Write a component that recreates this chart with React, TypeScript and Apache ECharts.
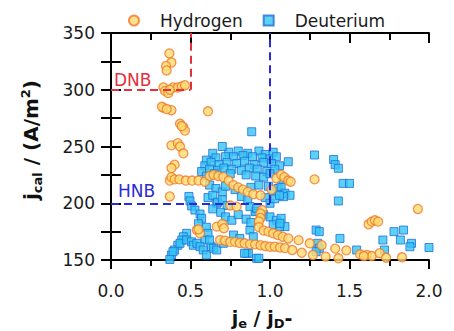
import React, { useEffect, useRef } from "react";
import * as echarts from "echarts";

const xTickValues = [0, 0.5, 1.0, 1.5, 2.0];
const yTickValues = [150, 200, 250, 300, 350];

const hydrogenPoints: [number, number][] = [
  [0.367, 332], [0.38, 324], [0.346, 321], [0.35, 317],
  [0.33, 302], [0.34, 299], [0.36, 297], [0.39, 302], [0.42, 302], [0.445, 303], [0.465, 304], [0.37, 300],
  [0.33, 284], [0.38, 282], [0.32, 285], [0.35, 283], [0.61, 281],
  [0.434, 270], [0.455, 267], [0.465, 264], [0.445, 268],
  [0.38, 251], [0.42, 253], [0.434, 250], [0.455, 244],
  [0.40, 234], [0.38, 231],
  [0.37, 220], [0.38, 223], [0.40, 221], [0.43, 221], [0.47, 220], [0.51, 220], [0.55, 220], [0.59, 219],
  [0.37, 206],
  [0.62, 224], [0.645, 225], [0.675, 224], [0.706, 223], [0.74, 220], [0.77, 216], [0.80, 214], [0.83, 212],
  [0.86, 210], [0.895, 208], [0.94, 207],
  [1.01, 212], [1.04, 222], [1.07, 225], [1.09, 223], [1.115, 220], [1.13, 219], [1.28, 221],
  [0.75, 198], [0.79, 197], [0.95, 194], [0.94, 191], [0.94, 187], [0.93, 184], [0.93, 179], [0.96, 176],
  [0.99, 175], [1.02, 173.5], [1.05, 172], [1.08, 170.5], [1.115, 169], [1.18, 167.5], [1.25, 164.7],
  [1.325, 163], [1.41, 160], [1.48, 158.5], [1.566, 155], [1.61, 154.4], [1.64, 153.5], [1.69, 156],
  [1.73, 152], [1.83, 152.4],
  [0.686, 167.6], [0.717, 167], [0.75, 166], [0.78, 166], [0.81, 165], [0.84, 164.7], [0.874, 164],
  [0.906, 163.8], [0.94, 163], [0.97, 162.3], [1.0, 161.7], [1.03, 161.7], [1.063, 161], [1.094, 160.5],
  [1.14, 158.8], [1.2, 156.4], [1.27, 154.4], [1.35, 153], [1.43, 151.5], [1.59, 153.5],
  [0.54, 176.4], [0.56, 173.5], [0.55, 177], [0.665, 179.4], [0.70, 181.7], [0.71, 178],
  [1.62, 181.5], [1.64, 183.8], [1.66, 185], [1.68, 183.8], [1.93, 195],
];

const deuteriumPoints: [number, number][] = [
  [0.49, 206], [0.497, 202], [0.507, 197.6], [0.528, 194], [0.56, 190.5], [0.57, 186.7], [0.55, 182],
  [0.60, 178.8], [0.61, 173.5], [0.59, 167.6], [0.63, 161.7], [0.62, 167.6], [0.665, 200],
  [0.476, 173.5], [0.455, 170.5], [0.445, 167.6], [0.42, 163], [0.40, 158.8], [0.38, 154.4], [0.37, 150.5],
  [0.39, 157.3], [0.434, 164.7], [0.476, 167.6], [0.507, 166], [0.518, 163], [0.54, 164.7], [0.56, 161.7],
  [0.58, 158.8], [0.60, 154.4], [0.645, 160.3], [0.665, 158.8], [0.706, 164.7], [0.77, 172], [0.81, 169],
  [0.853, 155.9], [0.916, 151.5], [0.874, 176.4], [0.895, 170.5], [0.864, 156], [0.93, 151.5], [0.84, 155.9],
  [0.64, 244], [0.74, 245], [0.80, 246], [0.86, 244], [0.93, 246], [0.97, 243], [1.02, 245],
  [0.60, 238], [0.66, 240], [0.72, 241], [0.77, 241], [0.83, 242], [0.89, 241], [0.95, 240], [1.0, 239], [1.04, 241],
  [0.59, 233], [0.63, 236], [0.68, 234], [0.73, 236], [0.79, 235], [0.84, 237], [0.90, 234], [0.96, 236], [1.01, 235], [1.06, 233],
  [0.57, 228], [0.62, 230], [0.67, 229], [0.71, 231], [0.76, 230], [0.82, 229], [0.87, 231], [0.92, 230], [0.98, 228], [1.03, 230],
  [0.60, 224], [0.65, 226], [0.75, 226], [0.85, 225], [0.91, 224], [0.96, 223], [1.0, 226],
  [0.62, 216], [0.66, 213], [0.70, 210], [0.72, 215], [0.78, 212], [0.88, 214], [0.93, 216], [0.99, 215], [1.02, 210], [1.05, 213],
  [0.61, 205], [0.64, 207], [0.67, 201], [0.70, 203], [0.73, 198], [0.82, 206], [0.86, 203], [0.97, 205], [1.0, 200], [1.03, 204],
  [0.64, 195], [0.69, 192], [0.72, 188], [0.76, 185], [0.80, 190], [0.85, 186], [0.88, 183], [0.91, 193], [0.96, 190], [1.0, 188], [1.04, 185],
  [0.885, 263], [0.70, 250], [1.115, 236.6], [1.28, 242.5], [1.40, 238.5], [1.41, 234], [1.43, 230.8],
  [1.46, 217.5], [1.50, 217.5], [1.43, 202], [1.07, 214.6], [1.094, 208.8], [1.126, 207], [1.085, 205.8],
  [1.06, 207], [1.07, 186.7], [1.094, 179.4], [1.02, 181], [1.06, 179.4], [1.063, 182.3],
  [0.906, 192.6], [0.874, 197], [0.916, 195.5], [1.29, 176.4], [1.31, 175], [1.44, 169], [1.30, 164.7],
  [1.31, 160.3], [1.29, 157.3], [1.545, 158.8], [1.71, 167.6], [1.72, 158.8], [1.82, 167.6], [1.84, 176.4],
  [1.78, 175], [1.89, 164.7], [1.88, 161.7], [2.0, 161], [1.08, 221],
];

const dnbLine: [number, number][] = [[0, 300], [0.5, 300], [0.5, 350]];
const hnbLine: [number, number][] = [[0, 200], [1.0, 200], [1.0, 350]];

const FONT = "'DejaVu Sans', sans-serif";
const RED = "#e2313b";
const BLUE = "#2a2ad6";

export default function App() {
  const ref = useRef<HTMLDivElement>(null);
  useEffect(() => {
    if (!ref.current) return;
    const chart = echarts.init(ref.current, undefined, { renderer: "svg" });
    const axisLine = { show: true, lineStyle: { color: "#000", width: 2 } };
    const tickStyle = { color: "#000", width: 2 };
    const baseX = {
      type: "value" as const,
      min: xTickValues[0],
      max: xTickValues[xTickValues.length - 1],
      interval: 0.5,
      splitLine: { show: false },
      axisLine,
    };
    const baseY = {
      type: "value" as const,
      min: yTickValues[0],
      max: yTickValues[yTickValues.length - 1],
      interval: 50,
      splitLine: { show: false },
      axisLine,
    };
    const mk = (pts: [number, number][], color: string, label: string, dist: number[]) => [
      [
        {
          coord: pts[0],
          lineStyle: { color, width: 2, type: [8, 5] },
          label: {
            show: true,
            formatter: label,
            position: "insideStartTop",
            color,
            fontSize: 17,
            fontFamily: FONT,
            distance: dist,
          },
        },
        { coord: pts[1] },
      ],
      [
        { coord: pts[1], lineStyle: { color, width: 2, type: [8, 5] }, label: { show: false } },
        { coord: pts[2] },
      ],
    ];
    chart.setOption({
      animation: false,
      textStyle: { fontFamily: FONT },
      legend: {
        data: [
          { name: "Hydrogen", icon: "circle" },
          { name: "Deuterium", icon: "rect" },
        ],
        left: 123,
        top: 7,
        itemWidth: 10,
        itemHeight: 10,
        itemGap: 20,
        textStyle: { fontSize: 17, color: "#1a1a1a", fontFamily: FONT, padding: [0, 0, 0, 16] },
      },
      grid: { left: 111, right: 25, top: 33, bottom: 71, containLabel: false },
      xAxis: [
        {
          ...baseX,
          position: "bottom",
          axisTick: { show: true, inside: false, length: 9, lineStyle: tickStyle },
          minorTick: { show: true, splitNumber: 2, length: 6, lineStyle: tickStyle },
          axisLabel: {
            fontSize: 17,
            color: "#1a1a1a",
            margin: 22,
            fontFamily: FONT,
            formatter: (v: number) => v.toFixed(1),
          },
        },
        {
          ...baseX,
          position: "top",
          axisTick: { show: true, inside: true, length: 10, lineStyle: tickStyle },
          minorTick: { show: true, splitNumber: 2, length: 7, lineStyle: tickStyle },
          axisLabel: { show: false },
        },
      ],
      yAxis: [
        {
          ...baseY,
          position: "left",
          axisTick: { show: true, inside: true, length: 10, lineStyle: tickStyle },
          minorTick: { show: true, splitNumber: 2, length: 10, lineStyle: tickStyle },
          axisLabel: { fontSize: 17, color: "#1a1a1a", margin: 16, fontFamily: FONT },
        },
        {
          ...baseY,
          position: "right",
          axisTick: { show: true, inside: true, length: 10, lineStyle: tickStyle },
          minorTick: { show: true, splitNumber: 2, length: 10, lineStyle: tickStyle },
          axisLabel: { show: false },
        },
      ],
      graphic: [
        {
          type: "text",
          x: 262,
          y: 318,
          style: {
            text: "{b|j}{s|e}{b| / j}{s|D}{b|-}",
            textAlign: "center",
            textVerticalAlign: "middle",
            align: "center",
            verticalAlign: "middle",
            fill: "#111",
            rich: {
              b: { fontSize: 19, fontWeight: "bold", fontFamily: FONT, lineHeight: 24, verticalAlign: "middle" },
              s: { fontSize: 13, fontWeight: "bold", fontFamily: FONT, lineHeight: 13, verticalAlign: "bottom" },
            },
          },
        },
        {
          type: "text",
          x: 31,
          y: 140,
          rotation: Math.PI / 2,
          style: {
            text: "{b|j}{s|cal}{b| / (A/m}{p|2}{b|)}",
            textAlign: "center",
            textVerticalAlign: "middle",
            align: "center",
            verticalAlign: "middle",
            fill: "#111",
            rich: {
              b: { fontSize: 20, fontWeight: "bold", fontFamily: FONT, lineHeight: 25, verticalAlign: "middle" },
              s: { fontSize: 13, fontWeight: "bold", fontFamily: FONT, lineHeight: 13, verticalAlign: "bottom" },
              p: { fontSize: 13, fontWeight: "bold", fontFamily: FONT, lineHeight: 13, verticalAlign: "top" },
            },
          },
        },
      ],
      series: [
        {
          name: "Deuterium",
          type: "scatter",
          symbol: "rect",
          symbolSize: 8,
          xAxisIndex: 0,
          yAxisIndex: 0,
          data: deuteriumPoints,
          itemStyle: { color: "#35c4f4", borderColor: "#1f6fd8", borderWidth: 1 },
          markLine: {
            symbol: "none",
            silent: true,
            animation: false,
            label: { show: false },
            data: [...mk(dnbLine, RED, "DNB", [3, 1]), ...mk(hnbLine, BLUE, "HNB", [7, 4])],
          },
        },
        {
          name: "Hydrogen",
          type: "scatter",
          symbol: "circle",
          symbolSize: 9,
          xAxisIndex: 0,
          yAxisIndex: 0,
          data: hydrogenPoints,
          itemStyle: { color: "#fedc72", borderColor: "#f0782c", borderWidth: 1.3 },
        },
      ],
    });
    return () => chart.dispose();
  }, []);
  return <div ref={ref} style={{ width: 454, height: 331, position: "absolute", left: 0, top: 0 }} />;
}
